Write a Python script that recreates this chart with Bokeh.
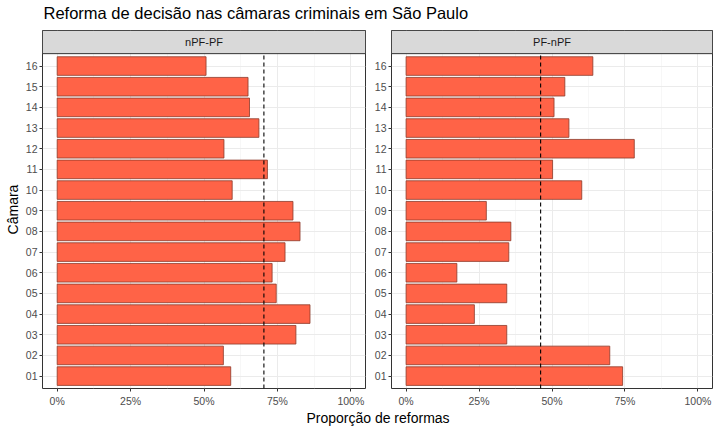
from bokeh.plotting import figure
from bokeh.layouts import column, row
from bokeh.models import (Range1d, FixedTicker, NumeralTickFormatter, ColumnDataSource, Title)
from bokeh.core.properties import value
from bokeh.embed import file_html
from bokeh.resources import INLINE

# ---- data ----
camaras = ["01", "02", "03", "04", "05", "06", "07", "08",
           "09", "10", "11", "12", "13", "14", "15", "16"]
npf_pf = [0.591, 0.566, 0.813, 0.861, 0.746, 0.732, 0.776, 0.827,
          0.803, 0.596, 0.716, 0.568, 0.687, 0.655, 0.650, 0.507]
pf_npf = [0.742, 0.698, 0.345, 0.234, 0.345, 0.174, 0.352, 0.359,
          0.275, 0.602, 0.502, 0.782, 0.558, 0.507, 0.544, 0.640]
media_npf_pf = 0.704
media_pf_npf = 0.461
paineis = ["nPF-PF", "PF-nPF"]
x_ticks = [0, 0.25, 0.5, 0.75, 1.0]
x_minor = [0.125, 0.375, 0.625, 0.875]

FONT = "Liberation Sans"
BAR = "#FF6347"
STRIP_UNITS = 1.12  # strip height in y units (above the panel)

def panel(vals, mean, label, width, mbl, mbr, show_ylabel):
    ypos = list(range(1, len(camaras) + 1))
    y0, y1 = 0.4, len(camaras) + 0.6
    p = figure(width=width, height=380, output_backend="svg", toolbar_location=None,
               x_range=Range1d(-0.05, 1.05), y_range=Range1d(y0, y1 + STRIP_UNITS),
               min_border_left=mbl, min_border_right=mbr, min_border_top=1,
               min_border_bottom=20)
    p.outline_line_color = "#333333"
    p.outline_line_width = 1
    p.background_fill_color = "white"
    p.border_fill_color = "white"
    src = ColumnDataSource(dict(y=ypos, v=vals))
    p.hbar(y="y", left=0, right="v", height=0.9, source=src,
           fill_color=BAR, line_color="#8B3A2A", line_width=0.8)
    p.segment(x0=[mean], x1=[mean], y0=[y0], y1=[y1], line_color="black",
              line_width=1.1, line_dash="4 3")
    # strip
    p.quad(left=[-0.05], right=[1.05], bottom=[y1], top=[y1 + STRIP_UNITS],
           fill_color="#D9D9D9", line_color="#333333", line_width=1)
    p.text(x=[0.5], y=[y1 + STRIP_UNITS / 2], text=[label], text_align="center",
           text_baseline="middle", text_font=value(FONT), text_font_size="11px",
           text_color="#1A1A1A")
    # axes
    p.xaxis.ticker = FixedTicker(ticks=x_ticks, minor_ticks=x_minor)
    p.xaxis.formatter = NumeralTickFormatter(format="0%")
    p.yaxis.ticker = FixedTicker(ticks=ypos)
    p.yaxis.major_label_overrides = {i + 1: c for i, c in enumerate(camaras)}
    for ax in (p.xaxis[0], p.yaxis[0]):
        ax.axis_line_color = None
        ax.major_tick_line_color = "#333333"
        ax.major_tick_out = 3
        ax.major_tick_in = 0
        ax.minor_tick_line_color = None
        ax.major_label_text_font = FONT
        ax.major_label_text_font_size = "10.5px"
        ax.major_label_text_color = "#4D4D4D"
        ax.major_label_standoff = 2
    if show_ylabel:
        p.yaxis.axis_label = "Câmara"
        p.yaxis.axis_label_text_font = FONT
        p.yaxis.axis_label_text_font_size = "14px"
        p.yaxis.axis_label_text_font_style = "normal"
        p.yaxis.axis_label_text_color = "black"
        p.yaxis.axis_label_standoff = 2
    p.xgrid.grid_line_color = "#EBEBEB"
    p.xgrid.grid_line_width = 1
    p.xgrid.minor_grid_line_color = "#F2F2F2"
    p.xgrid.minor_grid_line_width = 0.6
    p.ygrid.grid_line_color = "#EBEBEB"
    p.ygrid.grid_line_width = 1
    return p

left = panel(npf_pf, media_npf_pf, paineis[0], 366, 42, 1, True)
right = panel(pf_npf, media_pf_npf, paineis[1], 354, 25, 8, False)

header = figure(width=720, height=29, output_backend="svg", toolbar_location=None,
                min_border_left=43, min_border_top=22, min_border_bottom=0, min_border_right=0,
                x_range=Range1d(0, 1), y_range=Range1d(0, 1))
header.axis.visible = False
header.grid.visible = False
header.outline_line_color = None
header.title = Title(text="Reforma de decisão nas câmaras criminais em São Paulo",
                     text_font=FONT, text_font_size="16.5px", text_font_style="normal",
                     text_color="black", align="left", standoff=2, offset=0)

footer = figure(width=720, height=23, output_backend="svg", toolbar_location=None,
                min_border_left=42, min_border_right=8, min_border_top=0, min_border_bottom=0,
                x_range=Range1d(0, 1), y_range=Range1d(0, 1))
footer.axis.visible = False
footer.grid.visible = False
footer.outline_line_color = None
footer.text(x=[0.5], y=[0.62], text=["Proporção de reformas"], text_align="center",
            text_baseline="middle", text_font=value(FONT), text_font_size="14px",
            text_color="black")

layout = column(header, row(left, right, spacing=0), footer, spacing=0)
open("out.html", "w").write(file_html(layout, INLINE))
